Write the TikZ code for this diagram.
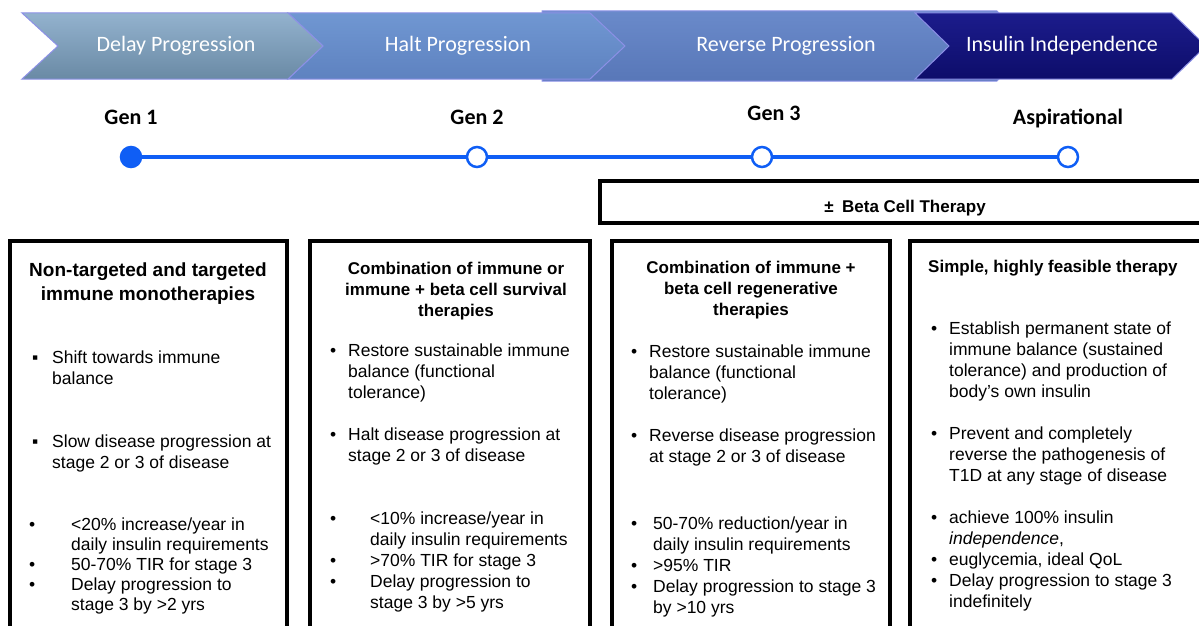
\documentclass[tikz,border=0pt]{standalone}
\usepackage{fontspec}
\setmainfont{Liberation Sans}
\newfontfamily\calfont{Carlito}
\usepackage{xcolor}
\usetikzlibrary{positioning}

\definecolor{delaytop}{HTML}{93B2CE}
\definecolor{delaybot}{HTML}{6A8AA5}
\definecolor{halttop}{HTML}{7097D2}
\definecolor{haltbot}{HTML}{5E82C0}
\definecolor{revtop}{HTML}{6A8ACA}
\definecolor{revbot}{HTML}{5877B8}
\definecolor{insultop}{HTML}{1C1C8C}
\definecolor{insulbot}{HTML}{0D0D6A}
\definecolor{edgeblue}{HTML}{8C90E6}
\definecolor{tlblue}{HTML}{0F5EF5}

\begin{document}
\begin{tikzpicture}[x=1pt, y=-1pt,
        chev/.style={draw=edgeblue, line width=1pt},
        chevtxt/.style={font=\calfont\fontsize{22}{26}\selectfont, text=white, inner sep=0pt, anchor=base},
        gen/.style={font=\calfont\bfseries\fontsize{22}{26}\selectfont, inner sep=0pt, text depth=0pt},
        dot/.style={circle, draw=tlblue, line width=2.5pt, fill=white, minimum size=20pt, inner sep=0pt, outer sep=0pt},
        tl/.style={tlblue, line width=4pt},
        box/.style={draw=black, line width=4pt, outer sep=0pt},
        ttl/.style={font=\bfseries\fontsize{17}{21}\selectfont, align=center, inner sep=0pt, anchor=base},
        txt/.style={font=\fontsize{17.5}{21}\selectfont, align=left, inner sep=0pt, anchor=base west},
        bul/.style={font=\fontsize{17.5}{21}\selectfont, inner sep=0pt, anchor=base west}]
        \useasboundingbox (0,0) rectangle (1199,626);
        \clip (0,0) rectangle (1199,626);

        % stage arrows
        \path[chev, top color=revtop, bottom color=revbot] (542,11) -- (997,11) -- (1031,46) -- (997,81) -- (542,81) -- cycle;
        \path[chev, top color=halttop, bottom color=haltbot] (288,13) -- (590,13) -- (625,46) -- (590,79) -- (288,79) -- (323,46) -- cycle;
        \path[chev, top color=delaytop, bottom color=delaybot] (22,13) -- (288,13) -- (323,46) -- (288,79) -- (22,79) -- (58,46) -- cycle;
        \path[chev, top color=insultop, bottom color=insulbot] (915,13) -- (1172,13) -- (1206,46) -- (1172,79) -- (915,79) -- (949,46) -- cycle;
        \node[chevtxt] (c1) at (176,52) {Delay Progression};
        \node[chevtxt] (c2) at (458,52) {Halt Progression};
        \node[chevtxt] (c3) at (786,52) {Reverse Progression};
        \node[chevtxt] (c4) at (1062,52) {Insulin Independence};

        % timeline
        \node[dot, fill=tlblue] (g1) at (131,157) {};
        \node[dot] (g2) at (477,157) {};
        \node[dot] (g3) at (762,157) {};
        \node[dot] (g4) at (1068,157) {};
        \draw[tl] (g1) -- (g2) -- (g3) -- (g4);
        \node[gen, above=22pt of g1] (l1) {Gen 1};
        \node[gen, above=22pt of g2] (l2) {Gen 2};
        \node[gen, above=26pt of g3, xshift=12pt] (l3) {Gen 3};
        \node[gen, above=22pt of g4] (l4) {Aspirational};

        \node[box, minimum width=612pt, minimum height=42pt] (beta) at (906,202) {};
        \node[font=\bfseries\fontsize{17}{20}\selectfont, inner sep=0pt, anchor=base] (betatxt) at (905,212) {±\enspace Beta Cell Therapy};

        % boxes
        \node[box, anchor=north west, minimum width=277pt, minimum height=420pt] (box1) at (10,241) {};
        \node[box, anchor=north west, minimum width=280pt, minimum height=420pt] (box2) at (310,241) {};
        \node[box, anchor=north west, minimum width=278pt, minimum height=420pt] (box3) at (612,241) {};
        \node[box, anchor=north west, minimum width=305pt, minimum height=420pt] (box4) at (910,241) {};

        % Gen 1 (multi-line texts sit on their last baseline)
        \node[ttl, font=\bfseries\fontsize{19}{24}\selectfont] (t1) at (148,300) {Non-targeted and targeted\\immune monotherapies};
        \node[bul] (s11) at (32,363) {▪};
        \node[bul] (s12) at (32,447) {▪};
        \foreach \y [count=\i from 3] in {530,570,590}
            \node[bul] (s1\i) at (29,\y) {•};
        \node[txt] (p11) at (52,384) {Shift towards immune\\balance};
        \node[txt] (p12) at (52,468) {Slow disease progression at\\stage 2 or 3 of disease};
        \node[txt, font=\fontsize{17.5}{20}\selectfont] (p13) at (71,550) {<20\% increase/year in\\daily insulin requirements};
        \node[txt] (p14) at (71,570) {50-70\% TIR for stage 3};
        \node[txt, font=\fontsize{17.5}{20}\selectfont] (p15) at (71,610) {Delay progression to\\stage 3 by >2 yrs};

        % Gen 2
        \node[ttl] (t2) at (456,316) {Combination of immune or\\immune + beta cell survival\\therapies};
        \foreach \y [count=\i] in {356,440,524,566,587}
            \node[bul] (s2\i) at (330,\y) {•};
        \node[txt] (p21) at (348,398) {Restore sustainable immune\\balance (functional\\tolerance)};
        \node[txt] (p22) at (348,461) {Halt disease progression at\\stage 2 or 3 of disease};
        \node[txt] (p23) at (370,545) {<10\% increase/year in\\daily insulin requirements};
        \node[txt] (p24) at (370,566) {>70\% TIR for stage 3};
        \node[txt] (p25) at (370,608) {Delay progression to\\stage 3 by >5 yrs};

        % Gen 3
        \node[ttl] (t3) at (751,315) {Combination of immune +\\beta cell regenerative\\therapies};
        \foreach \y [count=\i] in {357,441,529,571,592}
            \node[bul] (s3\i) at (631,\y) {•};
        \node[txt] (p31) at (649,399) {Restore sustainable immune\\balance (functional\\tolerance)};
        \node[txt] (p32) at (649,462) {Reverse disease progression\\at stage 2 or 3 of disease};
        \node[txt] (p33) at (653,550) {50-70\% reduction/year in\\daily insulin requirements};
        \node[txt] (p34) at (653,571) {>95\% TIR};
        \node[txt] (p35) at (653,613) {Delay progression to stage 3\\by >10 yrs};

        % Aspirational
        \node[ttl, anchor=base west] (t4) at (928,272) {Simple, highly feasible therapy};
        \foreach \y [count=\i] in {334,439,523,565,586}
            \node[bul] (s4\i) at (931,\y) {•};
        \node[txt] (p41) at (949,397) {Establish permanent state of\\immune balance (sustained\\tolerance) and production of\\body’s own insulin};
        \node[txt] (p42) at (949,481) {Prevent and completely\\reverse the pathogenesis of\\T1D at any stage of disease};
        \node[txt] (p43) at (949,544) {achieve 100\% insulin\\\textit{independence},};
        \node[txt] (p44) at (949,565) {euglycemia, ideal QoL};
        \node[txt] (p45) at (949,607) {Delay progression to stage 3\\indefinitely};
    \end{tikzpicture}
\end{document}
